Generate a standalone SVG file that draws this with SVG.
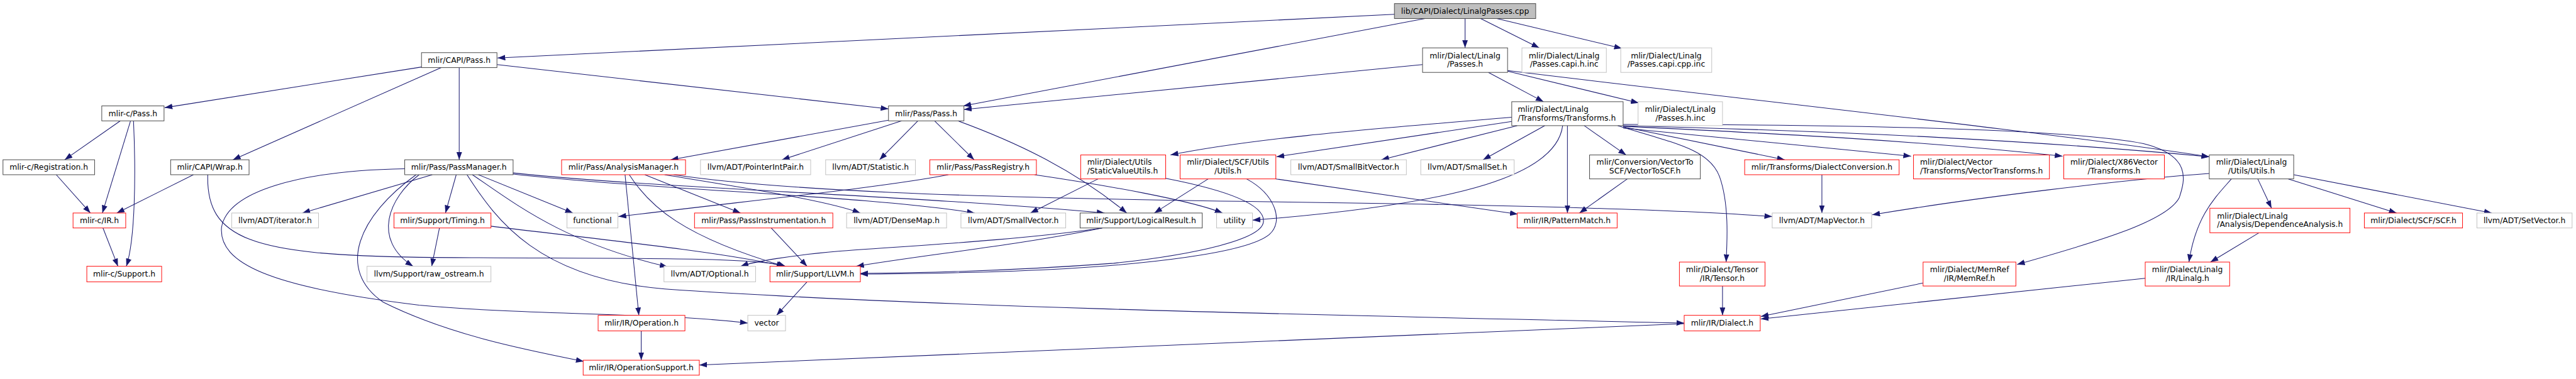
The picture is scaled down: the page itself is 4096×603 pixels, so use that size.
<svg xmlns="http://www.w3.org/2000/svg" width="4096" height="603" viewBox="0 0 4096 603">
<style>
.n rect{fill:#fff;stroke:#404040;stroke-width:1}
.n.g rect{stroke:#bfbfbf}
.n.r rect{stroke:#ff0000}
.n.root rect{fill:#bfbfbf;stroke:#404040}
text{font-family:"DejaVu Sans","Liberation Sans",sans-serif;font-size:13px;fill:#000}
.m{text-anchor:middle}
#edges path{fill:none;stroke:#191970;stroke-width:1.1;marker-end:url(#a)}
</style>
<defs>
<marker id="a" viewBox="0 0 13 9.4" refX="13" refY="4.7" markerWidth="13" markerHeight="9.4" markerUnits="userSpaceOnUse" orient="auto"><path d="M0,0 L13,4.7 L0,9.4 z" fill="#191970"/></marker>
</defs>
<rect width="4096" height="603" fill="#fff"/>
<g transform="scale(0.952)">
<g id="edges">
<path d="M2329,24 L831,97"/>
<path d="M2380,31 L1609,177"/>
<path d="M2447,31 L2447,80"/>
<path d="M2473,31 L2571,80"/>
<path d="M2500,31 L2709,81"/>
<path d="M704,112 L275,180"/>
<path d="M737,113 L389,267"/>
<path d="M767,113 L767,267"/>
<path d="M830,108 L1484,182"/>
<path d="M2376,108 L1610,183"/>
<path d="M2486,121 L2578,170"/>
<path d="M2518,119 L2737,172"/>
<path d="M2518,118 C2900,165 3400,218 3690,262"/>
<path d="M201,202 L108,267"/>
<path d="M218,202 L171,356"/>
<path d="M223,202 C227,290 226,400 211,445"/>
<path d="M94,292 L151,356"/>
<path d="M323,292 L195,356"/>
<path d="M347,292 C344,400 420,426 700,430 C1000,433 1260,428 1312,445"/>
<path d="M722,292 L505,356"/>
<path d="M762,292 L744,356"/>
<path d="M700,292 C650,330 620,400 690,445"/>
<path d="M695,292 C600,360 560,450 640,505 C750,560 880,585 975,604"/>
<path d="M676,282 C500,285 380,320 370,380 C365,440 450,480 700,510 C900,528 1100,522 1249,540"/>
<path d="M799,292 L957,356"/>
<path d="M789,292 C860,340 940,405 1115,446"/>
<path d="M780,292 C830,370 900,465 1110,483 C1600,517 2400,530 2813,540"/>
<path d="M857,289 C1100,315 1500,325 1845,356"/>
<path d="M857,291 C1100,318 1450,327 1628,356"/>
<path d="M1044,292 L1067,527"/>
<path d="M1051,292 C1085,345 1140,395 1310,445"/>
<path d="M1077,292 L1237,356"/>
<path d="M1110,292 C1250,315 1380,335 1437,356"/>
<path d="M1125,292 C1300,318 1600,330 2100,337 C2500,342 2800,350 2960,362"/>
<path d="M1288,381 L1348,445"/>
<path d="M734,381 L721,445"/>
<path d="M820,378 C1000,400 1200,420 1310,445"/>
<path d="M1348,471 L1297,527"/>
<path d="M1071,553 L1071,602"/>
<path d="M2813,541 L1168,610"/>
<path d="M1484,201 L1120,267"/>
<path d="M1506,202 L1306,267"/>
<path d="M1533,202 L1469,267"/>
<path d="M1561,202 L1627,267"/>
<path d="M1600,202 C1690,235 1790,280 1882,356"/>
<path d="M1584,292 C1480,312 1300,330 1033,362"/>
<path d="M1728,292 C1850,310 1990,335 2042,356"/>
<path d="M1834,299 L1721,356"/>
<path d="M1947,298 C2060,320 2115,345 2110,372 C2105,400 2000,425 1860,440 C1700,452 1550,456 1437,457"/>
<path d="M2018,299 L1928,356"/>
<path d="M2082,299 C2130,325 2145,370 2120,392 C2080,425 1900,442 1780,449 C1650,456 1500,458 1437,458"/>
<path d="M2131,299 L2535,358"/>
<path d="M2525,196 C2300,215 2100,230 1955,259"/>
<path d="M2525,203 L2132,262"/>
<path d="M2534,210 L2307,267"/>
<path d="M2580,210 L2477,267"/>
<path d="M2610,210 C2600,290 2450,340 2092,368"/>
<path d="M2618,210 L2618,356"/>
<path d="M2646,210 L2716,259"/>
<path d="M2711,212 L2981,267"/>
<path d="M2702,210 C2800,240 2855,250 2872,295 C2888,340 2885,400 2883,438"/>
<path d="M2711,214 L3192,261"/>
<path d="M2711,211 C3000,225 3200,235 3445,261"/>
<path d="M2711,210 C3100,220 3400,235 3690,262"/>
<path d="M2711,208 C3100,208 3450,215 3580,240 C3660,260 3650,300 3640,330 C3620,370 3500,405 3369,442"/>
<path d="M3690,290 C3550,300 3300,330 3127,359"/>
<path d="M3727,299 C3700,330 3668,360 3656,438"/>
<path d="M3771,299 L3794,348"/>
<path d="M3822,299 L4003,356"/>
<path d="M3831,292 L4162,356"/>
<path d="M3773,389 L3692,438"/>
<path d="M3583,465 L2941,533"/>
<path d="M3212,473 L2941,529"/>
<path d="M2877,478 L2877,527"/>
<path d="M2718,299 L2638,356"/>
<path d="M3043,292 L3043,356"/>
<path d="M1841,381 C1700,410 1550,425 1430,445"/>
<path d="M1841,381 C1700,402 1500,412 1400,420 C1320,427 1260,437 1237,445"/>
<path d="M172,381 L197,445"/>
</g>
<g id="n_root" class="n root"><rect x="2329" y="6" width="236" height="25"/><text class="m" x="2447" y="23">lib/CAPI/Dialect/LinalgPasses.cpp</text></g>
<g id="n_capipass" class="n"><rect x="704" y="88" width="126" height="25"/><text class="m" x="767" y="105">mlir/CAPI/Pass.h</text></g>
<g id="n_linpasses" class="n"><rect x="2376" y="80" width="142" height="41"/><text class="m" x="2447" y="97.2">mlir/Dialect/Linalg</text><text class="m" x="2447" y="111.7">/Passes.h</text></g>
<g id="n_capih" class="n g"><rect x="2542" y="80" width="141" height="41"/><text class="m" x="2612.5" y="97.2">mlir/Dialect/Linalg</text><text class="m" x="2612.5" y="111.7">/Passes.capi.h.inc</text></g>
<g id="n_capicpp" class="n g"><rect x="2707" y="80" width="152" height="41"/><text class="m" x="2783" y="97.2">mlir/Dialect/Linalg</text><text class="m" x="2783" y="111.7">/Passes.capi.cpp.inc</text></g>
<g id="n_cpass" class="n"><rect x="170" y="177" width="104" height="25"/><text class="m" x="222" y="194">mlir-c/Pass.h</text></g>
<g id="n_passh" class="n"><rect x="1484" y="177" width="126" height="25"/><text class="m" x="1547" y="194">mlir/Pass/Pass.h</text></g>
<g id="n_transforms" class="n"><rect x="2525" y="170" width="186" height="40"/><text x="2535" y="186.7">mlir/Dialect/Linalg</text><text x="2535" y="201.2">/Transforms/Transforms.h</text></g>
<g id="n_passesinc" class="n g"><rect x="2736" y="170" width="141" height="40"/><text class="m" x="2806.5" y="186.7">mlir/Dialect/Linalg</text><text class="m" x="2806.5" y="201.2">/Passes.h.inc</text></g>
<g id="n_creg" class="n"><rect x="5" y="267" width="153" height="25"/><text class="m" x="81.5" y="284">mlir-c/Registration.h</text></g>
<g id="n_wrap" class="n"><rect x="285" y="267" width="131" height="25"/><text class="m" x="350.5" y="284">mlir/CAPI/Wrap.h</text></g>
<g id="n_passmgr" class="n"><rect x="676" y="267" width="181" height="25"/><text class="m" x="766.5" y="284">mlir/Pass/PassManager.h</text></g>
<g id="n_analysis" class="n r"><rect x="938" y="267" width="207" height="25"/><text class="m" x="1041.5" y="284">mlir/Pass/AnalysisManager.h</text></g>
<g id="n_pip" class="n g"><rect x="1170" y="267" width="184" height="25"/><text class="m" x="1262" y="284">llvm/ADT/PointerIntPair.h</text></g>
<g id="n_stat" class="n g"><rect x="1379" y="267" width="150" height="25"/><text class="m" x="1454" y="284">llvm/ADT/Statistic.h</text></g>
<g id="n_preg" class="n r"><rect x="1553" y="267" width="178" height="25"/><text class="m" x="1642" y="284">mlir/Pass/PassRegistry.h</text></g>
<g id="n_svu" class="n r"><rect x="1805" y="259" width="142" height="40"/><text x="1816" y="275.7">mlir/Dialect/Utils</text><text x="1816" y="290.2">/StaticValueUtils.h</text></g>
<g id="n_scfutils" class="n r"><rect x="1971" y="259" width="160" height="40"/><text class="m" x="2051" y="275.7">mlir/Dialect/SCF/Utils</text><text class="m" x="2051" y="290.2">/Utils.h</text></g>
<g id="n_sbv" class="n g"><rect x="2156" y="267" width="193" height="25"/><text class="m" x="2252.5" y="284">llvm/ADT/SmallBitVector.h</text></g>
<g id="n_smallset" class="n g"><rect x="2373" y="267" width="156" height="25"/><text class="m" x="2451" y="284">llvm/ADT/SmallSet.h</text></g>
<g id="n_v2scf" class="n"><rect x="2655" y="259" width="185" height="40"/><text class="m" x="2747.5" y="275.7">mlir/Conversion/VectorTo</text><text class="m" x="2747.5" y="290.2">SCF/VectorToSCF.h</text></g>
<g id="n_dconv" class="n r"><rect x="2914" y="267" width="258" height="25"/><text class="m" x="3043" y="284">mlir/Transforms/DialectConversion.h</text></g>
<g id="n_vtrans" class="n r"><rect x="3196" y="259" width="227" height="40"/><text x="3207" y="275.7">mlir/Dialect/Vector</text><text x="3207" y="290.2">/Transforms/VectorTransforms.h</text></g>
<g id="n_x86" class="n r"><rect x="3447" y="259" width="168" height="40"/><text class="m" x="3531" y="275.7">mlir/Dialect/X86Vector</text><text class="m" x="3531" y="290.2">/Transforms.h</text></g>
<g id="n_lutils" class="n"><rect x="3690" y="259" width="141" height="40"/><text class="m" x="3760.5" y="275.7">mlir/Dialect/Linalg</text><text class="m" x="3760.5" y="290.2">/Utils/Utils.h</text></g>
<g id="n_cir" class="n r"><rect x="122" y="356" width="88" height="25"/><text class="m" x="166" y="373">mlir-c/IR.h</text></g>
<g id="n_iter" class="n g"><rect x="387" y="356" width="145" height="25"/><text class="m" x="459.5" y="373">llvm/ADT/iterator.h</text></g>
<g id="n_timing" class="n r"><rect x="658" y="356" width="162" height="25"/><text class="m" x="739" y="373">mlir/Support/Timing.h</text></g>
<g id="n_func" class="n g"><rect x="947" y="356" width="85" height="25"/><text class="m" x="989.5" y="373">functional</text></g>
<g id="n_pinst" class="n r"><rect x="1160" y="356" width="231" height="25"/><text class="m" x="1275.5" y="373">mlir/Pass/PassInstrumentation.h</text></g>
<g id="n_dmap" class="n g"><rect x="1414" y="356" width="167" height="25"/><text class="m" x="1497.5" y="373">llvm/ADT/DenseMap.h</text></g>
<g id="n_svec" class="n g"><rect x="1605" y="356" width="175" height="25"/><text class="m" x="1692.5" y="373">llvm/ADT/SmallVector.h</text></g>
<g id="n_lres" class="n"><rect x="1804" y="356" width="204" height="25"/><text class="m" x="1906" y="373">mlir/Support/LogicalResult.h</text></g>
<g id="n_util" class="n g"><rect x="2032" y="356" width="60" height="25"/><text class="m" x="2062" y="373">utility</text></g>
<g id="n_pmatch" class="n r"><rect x="2534" y="356" width="167" height="25"/><text class="m" x="2617.5" y="373">mlir/IR/PatternMatch.h</text></g>
<g id="n_mapvec" class="n g"><rect x="2960" y="356" width="166" height="25"/><text class="m" x="3043" y="373">llvm/ADT/MapVector.h</text></g>
<g id="n_dep" class="n r"><rect x="3691" y="348" width="234" height="41"/><text x="3703" y="365.2">mlir/Dialect/Linalg</text><text x="3703" y="379.7">/Analysis/DependenceAnalysis.h</text></g>
<g id="n_scf" class="n r"><rect x="3949" y="356" width="164" height="25"/><text class="m" x="4031" y="373">mlir/Dialect/SCF/SCF.h</text></g>
<g id="n_setvec" class="n g"><rect x="4137" y="356" width="159" height="25"/><text class="m" x="4216.5" y="373">llvm/ADT/SetVector.h</text></g>
<g id="n_csupport" class="n r"><rect x="145" y="445" width="125" height="26"/><text class="m" x="207.5" y="462.5">mlir-c/Support.h</text></g>
<g id="n_rawos" class="n g"><rect x="613" y="445" width="207" height="26"/><text class="m" x="716.5" y="462.5">llvm/Support/raw_ostream.h</text></g>
<g id="n_opt" class="n g"><rect x="1109" y="445" width="153" height="26"/><text class="m" x="1185.5" y="462.5">llvm/ADT/Optional.h</text></g>
<g id="n_llvm" class="n r"><rect x="1286" y="445" width="151" height="26"/><text class="m" x="1361.5" y="462.5">mlir/Support/LLVM.h</text></g>
<g id="n_tensor" class="n r"><rect x="2805" y="438" width="143" height="40"/><text class="m" x="2876.5" y="454.7">mlir/Dialect/Tensor</text><text class="m" x="2876.5" y="469.2">/IR/Tensor.h</text></g>
<g id="n_memref" class="n r"><rect x="3212" y="438" width="155" height="40"/><text class="m" x="3289.5" y="454.7">mlir/Dialect/MemRef</text><text class="m" x="3289.5" y="469.2">/IR/MemRef.h</text></g>
<g id="n_linalg" class="n r"><rect x="3583" y="438" width="141" height="40"/><text class="m" x="3653.5" y="454.7">mlir/Dialect/Linalg</text><text class="m" x="3653.5" y="469.2">/IR/Linalg.h</text></g>
<g id="n_op" class="n r"><rect x="999" y="527" width="145" height="26"/><text class="m" x="1071.5" y="544.5">mlir/IR/Operation.h</text></g>
<g id="n_vector" class="n g"><rect x="1249" y="527" width="63" height="26"/><text class="m" x="1280.5" y="544.5">vector</text></g>
<g id="n_dialect" class="n r"><rect x="2813" y="527" width="127" height="26"/><text class="m" x="2876.5" y="544.5">mlir/IR/Dialect.h</text></g>
<g id="n_opsup" class="n r"><rect x="974" y="602" width="194" height="25"/><text class="m" x="1071" y="619">mlir/IR/OperationSupport.h</text></g>
</g>
</svg>
